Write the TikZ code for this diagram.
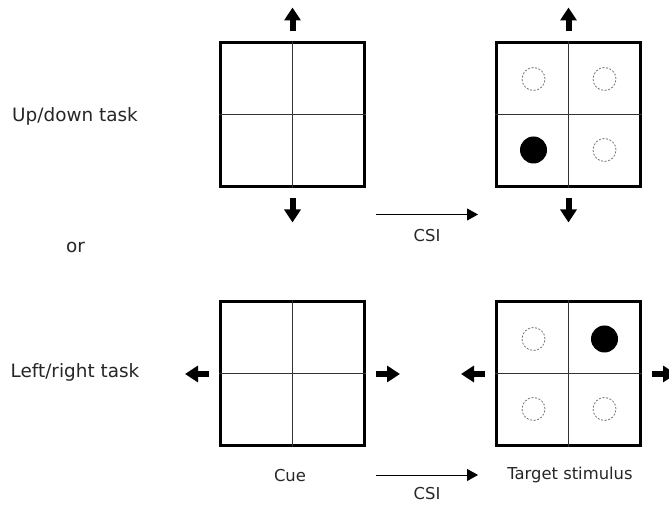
\documentclass[tikz,border=0pt]{standalone}
\usepackage{fontspec}
\setmainfont{DejaVu Sans}
\usetikzlibrary{positioning,arrows.meta}

\begin{document}
\begin{tikzpicture}[
    x=1pt, y=1pt,
    panel/.style={draw, line width=3pt, minimum size=144pt, inner sep=0pt},
    divider/.style={line width=1pt, black!80},
    target/.style={circle, fill=black, minimum size=27pt, inner sep=0pt},
    slot/.style={circle, draw=black!55, dash pattern=on 2pt off 1.6pt,
                 line width=0.8pt, minimum size=23pt, inner sep=0pt},
    cuearrow/.style={line width=6pt, -{Triangle[length=13pt,width=16pt]}},
    interval/.style={line width=0.9pt, -{Triangle[length=11pt,width=12pt]}},
    task/.style={font=\fontsize{18.4}{21}\selectfont, text=black!85, anchor=base},
    caption/.style={font=\fontsize{16.4}{19}\selectfont, text=black!85, anchor=base},
  ]
  \useasboundingbox (0,0) rectangle (669,505);

  % four panels
  \node[panel] (tl) at (292.5,390) {};
  \node[panel, right=129pt of tl] (tr) {};
  \node[panel, below=112pt of tl] (bl) {};
  \node[panel, right=129pt of bl] (br) {};

  % quadrant dividers
  \foreach \p in {tl,tr,bl,br} {
    \draw[divider] (\p.north) -- (\p.south);
    \draw[divider] (\p.west) -- (\p.east);
  }

  % cue arrows
  \foreach \p in {tl,tr} {
    \draw[cuearrow] ([yshift=10pt]\p.north) -- ([yshift=34pt]\p.north);
    \draw[cuearrow] ([yshift=-10pt]\p.south) -- ([yshift=-34pt]\p.south);
  }
  \foreach \p in {bl,br} {
    \draw[cuearrow] ([xshift=-10pt]\p.west) -- ([xshift=-34pt]\p.west);
    \draw[cuearrow] ([xshift=10pt]\p.east) -- ([xshift=34pt]\p.east);
  }

  % stimulus positions
  \node[slot]   (tr-ul) at ([shift={(-35,36)}]tr.center) {};
  \node[slot]   (tr-ur) at ([shift={(36,36)}]tr.center) {};
  \node[target] (tr-ll) at ([shift={(-35,-35)}]tr.center) {};
  \node[slot]   (tr-lr) at ([shift={(36,-35)}]tr.center) {};
  \node[slot]   (br-ul) at ([shift={(-35,35)}]br.center) {};
  \node[target] (br-ur) at ([shift={(36,35)}]br.center) {};
  \node[slot]   (br-ll) at ([shift={(-35,-35)}]br.center) {};
  \node[slot]   (br-lr) at ([shift={(36,-35)}]br.center) {};

  % cue-stimulus intervals
  \draw[interval] ([shift={(10,-26)}]tl.south east) -- ([shift={(-17,-26)}]tr.south west);
  \draw[interval] ([shift={(10,-27.5)}]bl.south east) -- ([shift={(-17,-27.5)}]br.south west);

  % labels
  \node[task] (updown) at (75,383) {Up/down task};
  \node[task] (or) at (75.5,252) {or};
  \node[task] (leftright) at (75,127) {Left/right task};
  \node[caption] (cue) at (290,23) {Cue};
  \node[caption] (stim) at (570,25) {Target stimulus};
  \node[caption] (csi-top) at (427,263) {CSI};
  \node[caption] (csi-bottom) at (427,5) {CSI};
\end{tikzpicture}
\end{document}
